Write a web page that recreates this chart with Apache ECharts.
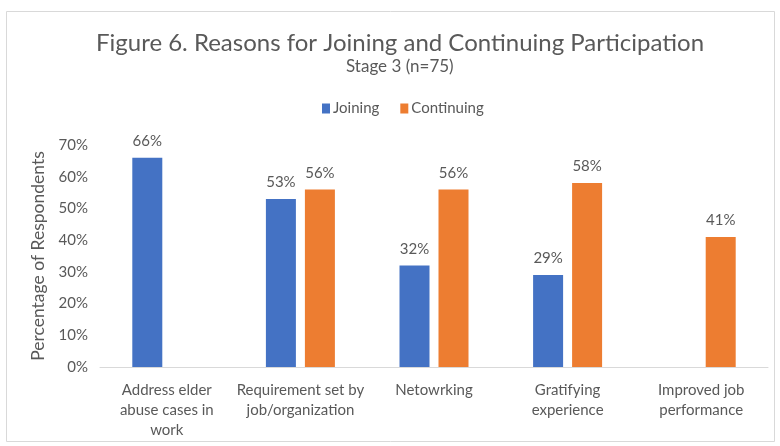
<!DOCTYPE html>
<html>
<head>
<meta charset="utf-8">
<script src="https://cdn.jsdelivr.net/npm/echarts@6/dist/echarts.min.js"></script>
<style>
  html, body { margin: 0; padding: 0; background: #ffffff; }
  #chart { width: 780px; height: 446px; }
</style>
</head>
<body>
<div id="chart"></div>
<script>
// Reasons for joining / continuing participation, Stage 3 (n=75)
const categories = [
  'Address elder\nabuse cases in\nwork',
  'Requirement set by\njob/organization',
  'Netowrking',
  'Gratifying\nexperience',
  'Improved job\nperformance'
];
const joining = [66, 53, 32, 29, null];
const continuing = [null, 56, 56, 58, 41];
const yTicks = [0, 10, 20, 30, 40, 50, 60, 70];

const FONT = 'Lato';
const TEXT = '#595959';

const chart = echarts.init(document.getElementById('chart'), null, { renderer: 'canvas' });

const labelStyle = {
  show: true,
  position: 'top',
  distance: 9,
  color: TEXT,
  fontFamily: FONT,
  fontSize: 15,
  formatter: p => p.value == null ? '' : p.value + '%'
};

chart.setOption({
  backgroundColor: '#ffffff',
  animation: false,
  graphic: [
    {
      type: 'rect',
      shape: { x: 6.5, y: 11.5, width: 768, height: 430 },
      style: { fill: 'none', stroke: '#d9d9d9', lineWidth: 1 },
      silent: true,
      z: -1
    },
    {
      // subtitle, centred under the heading
      type: 'text',
      left: 346,
      top: 58,
      style: { text: 'Stage 3 (n=75)', fill: TEXT, font: '17px Lato' },
      silent: true
    }
  ],
  title: {
    text: 'Figure 6. Reasons for Joining and Continuing Participation',
    left: 91,
    top: 26,
    textStyle: { color: TEXT, fontFamily: FONT, fontSize: 24, fontWeight: 'normal' }
  },
  legend: {
    top: 96,
    left: 317,
    itemWidth: 8,
    itemHeight: 10,
    itemGap: 21,
    icon: 'rect',
    textStyle: { color: TEXT, fontFamily: FONT, fontSize: 15, padding: [0, 0, 0, -2] },
    data: ['Joining', 'Continuing']
  },
  grid: { left: 100, right: 12, top: 145, bottom: 79, containLabel: false },
  xAxis: {
    type: 'category',
    data: categories,
    axisLine: { lineStyle: { color: '#d9d9d9', width: 1 } },
    axisTick: { show: false },
    axisLabel: {
      color: TEXT, fontFamily: FONT, fontSize: 15, lineHeight: 20,
      margin: 13, interval: 0
    }
  },
  yAxis: {
    type: 'value',
    min: yTicks[0],
    max: yTicks[yTicks.length - 1],
    interval: 10,
    name: 'Percentage of Respondents',
    nameLocation: 'middle',
    nameGap: 47,
    nameRotate: 90,
    nameTextStyle: { color: TEXT, fontFamily: FONT, fontSize: 17.5 },
    axisLine: { show: false },
    axisTick: { show: false },
    splitLine: { show: false },
    axisLabel: {
      color: TEXT, fontFamily: FONT, fontSize: 15, margin: 12,
      formatter: '{value}%'
    }
  },
  series: [
    {
      name: 'Joining',
      type: 'bar',
      data: joining,
      barWidth: 30,
      barGap: '30%',
      itemStyle: { color: '#4472C4' },
      label: labelStyle
    },
    {
      name: 'Continuing',
      type: 'bar',
      data: continuing,
      barWidth: 30,
      itemStyle: { color: '#ED7D31' },
      label: labelStyle
    }
  ]
});
</script>
</body>
</html>
